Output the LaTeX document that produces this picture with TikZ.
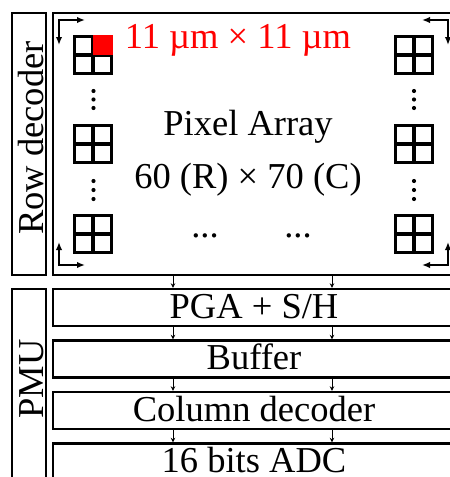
\documentclass[tikz,border=0pt]{standalone}
\usepackage{fontspec}
\setmainfont{Liberation Serif}
\usetikzlibrary{arrows.meta,calc}

\begin{document}
\begin{tikzpicture}[x=1pt,y=-1pt,
  box/.style={draw,line width=2.4pt,inner sep=0pt},
  blk/.style={box,minimum width=402pt,minimum height=37pt,text height=25.5pt,text depth=3.7pt,font=\fontsize{36.5}{44}\selectfont},
  big/.style={font=\fontsize{36.5}{44}\selectfont,inner sep=0pt,anchor=base},
  cell/.style={line width=2.2pt},
  corner/.style={{Latex[length=8pt,width=6.5pt]}-{Latex[length=8pt,width=6.5pt]},line width=1.6pt},
  flow/.style={-{Stealth[length=4.5pt,width=4.5pt]},line width=0.9pt}]
\useasboundingbox (0,0) rectangle (450,477);
\clip (0,0) rectangle (450,477);

% Decoder and array frames
\node[box,minimum width=34pt,minimum height=262pt] (rd) at (29,144) {};
\node[box,minimum width=402pt,minimum height=262pt] (pa) at (254,144) {};
\node[box,minimum width=34pt,minimum height=220pt] (pmu) at (29,399) {};
\node[big,rotate=90] (rdl) at (43,138) {Row decoder};
\node[big,rotate=90] (pmul) at (43,379) {PMU};

% Pixel groups
\foreach \gx in {74,395} {
  \foreach \gy in {36,125,215} {
    \foreach \i in {0,1} {
      \foreach \j in {0,1} {
        \draw[cell] (\gx+0.5+\i*19.5,\gy+0.5+\j*19.5) rectangle ++(17.5,17.5);
      }
    }
  }
}
\fill[red] (93,35) rectangle (113,55);
\foreach \dx in {93.5,414} {
  \foreach \dy in {91,99.5,108,181,190,199} {
    \fill (\dx,\dy) circle (2.1);
  }
}

% Scan directions
\draw[corner] (85,20) -| (59,45);
\draw[corner] (422,20) -| (448,45);
\draw[corner] (85,265) -| (59,242);
\draw[corner] (422,265) -| (448,242);

% Array labels
\node[big,red] (size) at (238,48) {11 µm × 11 µm};
\node[big] (name) at (248,135) {Pixel Array};
\node[big] (dim) at (248,188) {60 (R) × 70 (C)};
\node[big] (hdots1) at (205,237) {...};
\node[big] (hdots2) at (298,237) {...};

% Readout chain
\node[blk] (pga) at (254,307.5) {PGA + S/H};
\node[blk] (buf) at (254,359) {Buffer};
\node[blk] (cdec) at (254,410.5) {Column decoder};
\node[blk] (adc) at (254,462) {16 bits ADC};

\coordinate (colA) at (173,0);
\coordinate (colB) at (332,0);
\foreach \a/\b in {pa/pga,pga/buf,buf/cdec,cdec/adc} {
  \foreach \c in {colA,colB} {
    \draw[flow] (\a.south -| \c) -- (\b.north -| \c);
  }
}
\end{tikzpicture}
\end{document}
